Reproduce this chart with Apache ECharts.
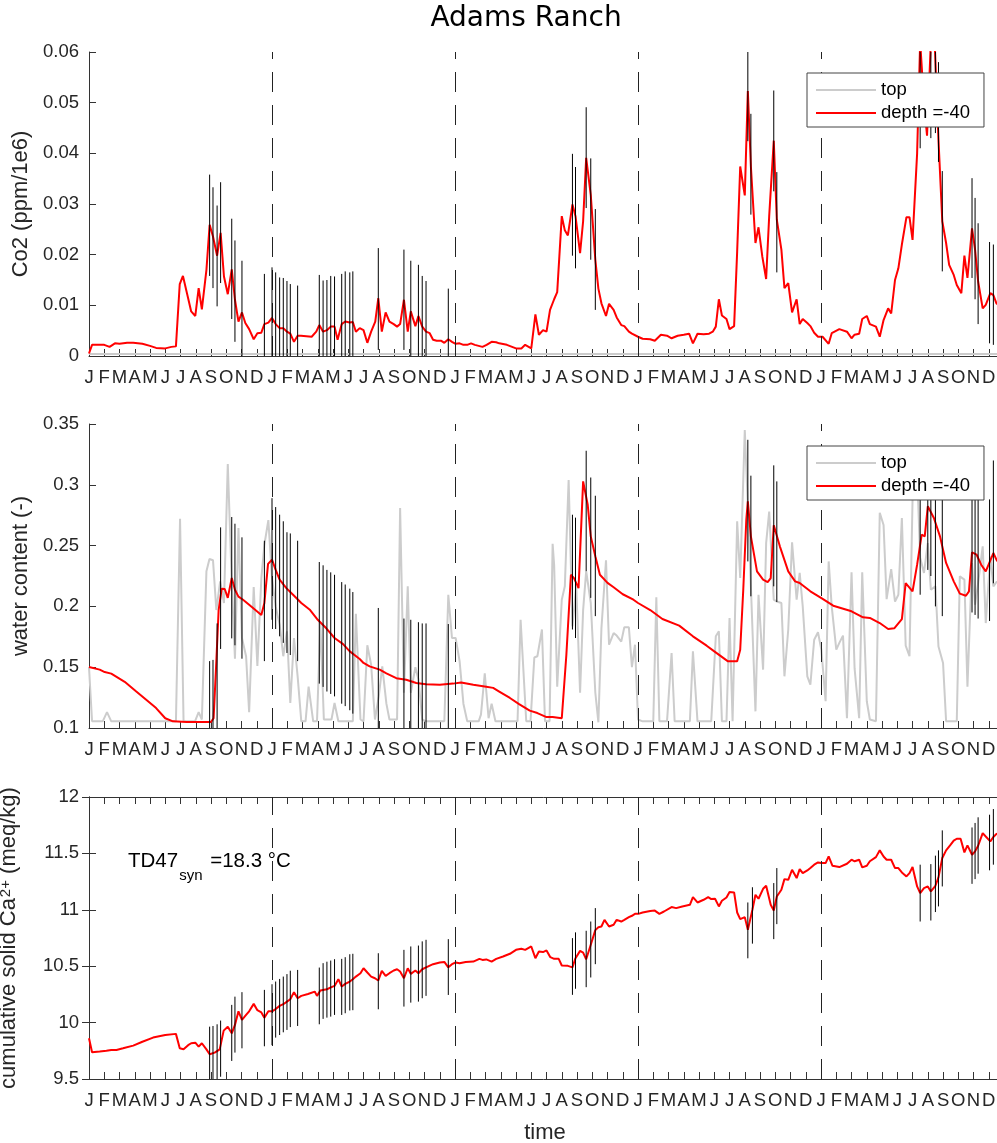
<!DOCTYPE html>
<html>
<head>
<meta charset="utf-8">
<script src="https://cdn.jsdelivr.net/npm/echarts@6/dist/echarts.min.js"></script>
<style>html,body{margin:0;padding:0;background:#fff}#c{width:997px;height:1143px}</style>
</head>
<body>
<div id="c"></div>
<script>
// x values are months since the first January (0 = Jan, year 1)
const monthLetters = ['J','F','M','A','M','J','J','A','S','O','N','D'];
const yearLines = [12, 24, 36, 48];

const co2Top = [[0,0.0004],[12,0.0004],[24,0.0004],[36,0.0004],[48,0.0004],[59.8,0.0004]];
const co2Depth = [[0,0.0005],[0.2,0.0022],[1.0,0.0022],[1.35,0.0018],[1.7,0.0025],[2.0,0.0024],[2.5,0.0026],[2.9,0.0026],[3.5,0.0024],[4.0,0.002],[4.4,0.0016],[5.0,0.0015],[5.4,0.0018],[5.7,0.0019],[5.95,0.0142],[6.16,0.0158],[6.5,0.0114],[6.7,0.0088],[6.97,0.0079],[7.19,0.0134],[7.4,0.0092],[7.7,0.017],[7.91,0.0259],[8.13,0.0236],[8.4,0.0198],[8.63,0.0243],[8.85,0.0157],[9.1,0.0122],[9.36,0.0171],[9.57,0.0111],[9.8,0.0068],[10.03,0.0086],[10.25,0.0065],[10.5,0.0053],[10.8,0.0033],[11.04,0.0045],[11.3,0.0046],[11.5,0.0063],[11.76,0.0066],[12.0,0.0075],[12.24,0.0063],[12.5,0.0055],[12.74,0.0055],[12.98,0.0048],[13.2,0.0044],[13.44,0.0028],[13.68,0.004],[13.9,0.004],[14.6,0.0038],[14.9,0.0048],[15.1,0.0061],[15.35,0.0048],[15.6,0.0051],[15.85,0.0058],[16.1,0.0058],[16.3,0.0032],[16.57,0.0063],[16.8,0.0068],[17.1,0.0066],[17.3,0.0067],[17.5,0.0048],[17.75,0.0055],[18.0,0.0051],[18.25,0.0026],[18.5,0.0048],[18.77,0.0068],[18.97,0.0114],[19.2,0.0048],[19.45,0.0086],[19.7,0.0068],[19.98,0.0063],[20.2,0.0058],[20.4,0.0063],[20.65,0.0111],[20.9,0.0048],[21.1,0.0088],[21.4,0.0059],[21.6,0.0079],[21.85,0.0058],[22.1,0.0048],[22.34,0.0045],[22.56,0.0032],[22.8,0.003],[23.1,0.003],[23.3,0.0026],[23.56,0.0033],[23.8,0.0028],[24.04,0.0024],[24.3,0.0025],[24.55,0.0022],[24.8,0.0022],[25.05,0.0025],[25.3,0.0022],[25.55,0.002],[25.8,0.0018],[26.07,0.0022],[26.4,0.0028],[26.7,0.0027],[26.9,0.0025],[27.4,0.0022],[28.0,0.0015],[28.35,0.0015],[28.6,0.0022],[29.0,0.0015],[29.27,0.0082],[29.5,0.0042],[29.77,0.0051],[30.0,0.0048],[30.23,0.0091],[30.5,0.0112],[30.7,0.0126],[31.0,0.0276],[31.2,0.0248],[31.4,0.0238],[31.7,0.0299],[31.9,0.0276],[32.2,0.0203],[32.4,0.0266],[32.6,0.0391],[32.9,0.0318],[33.2,0.019],[33.4,0.0133],[33.6,0.0104],[33.9,0.0079],[34.1,0.0103],[34.4,0.0091],[34.6,0.0076],[34.9,0.0061],[35.1,0.0059],[35.4,0.0048],[35.6,0.0044],[36.0,0.0038],[36.3,0.0034],[36.8,0.0033],[37.1,0.003],[37.5,0.0042],[37.9,0.004],[38.2,0.0035],[38.6,0.004],[39.0,0.0042],[39.35,0.0044],[39.6,0.0025],[39.9,0.0044],[40.3,0.0043],[40.66,0.0044],[40.9,0.0048],[41.1,0.0058],[41.3,0.0112],[41.5,0.008],[41.8,0.0073],[42.0,0.0053],[42.3,0.0059],[42.5,0.0206],[42.7,0.0374],[43.0,0.0317],[43.2,0.0523],[43.4,0.0374],[43.7,0.0223],[43.9,0.0254],[44.15,0.0196],[44.4,0.0152],[44.6,0.0276],[44.9,0.0425],[45.1,0.0269],[45.4,0.021],[45.6,0.0134],[45.85,0.0144],[46.1,0.0086],[46.4,0.0112],[46.6,0.0063],[46.8,0.0073],[47.1,0.0065],[47.3,0.0059],[47.55,0.0046],[47.8,0.0038],[48.1,0.0038],[48.5,0.0024],[48.7,0.0045],[49.2,0.0053],[49.7,0.0048],[50.0,0.0035],[50.2,0.0042],[50.5,0.0044],[50.7,0.0073],[51.0,0.0079],[51.2,0.0063],[51.6,0.0058],[51.85,0.0038],[52.1,0.0071],[52.4,0.0094],[52.6,0.0084],[52.85,0.015],[53.07,0.0173],[53.3,0.022],[53.6,0.0274],[53.8,0.0274],[54.0,0.0229],[54.3,0.04],[54.5,0.062],[54.75,0.05],[54.95,0.0435],[55.2,0.062],[55.45,0.062],[55.7,0.0427],[55.95,0.0266],[56.2,0.0223],[56.4,0.018],[56.7,0.016],[56.9,0.014],[57.2,0.0124],[57.4,0.0198],[57.6,0.0154],[57.9,0.0252],[58.1,0.021],[58.3,0.0147],[58.6,0.0094],[58.8,0.0101],[59.1,0.0124],[59.3,0.012],[59.5,0.0104],[59.8,0.0098]];
const co2Err = [[7.91,0.0158,0.0358],[8.13,0.0134,0.0333],[8.4,0.0098,0.0297],[8.63,0.0144,0.0343],[9.36,0.0073,0.0271],[9.57,0.0028,0.0228],[10.03,0,0.0188],[11.5,0,0.0162],[12.0,0,0.0175],[12.24,0,0.0165],[12.5,0,0.0155],[12.74,0,0.0154],[12.98,0,0.0148],[13.2,0,0.0142],[13.68,0,0.0139],[15.1,0,0.016],[15.35,0,0.0149],[15.6,0,0.015],[15.85,0,0.0158],[16.1,0,0.0157],[16.57,0,0.0162],[16.8,0,0.0167],[17.1,0,0.0165],[17.3,0,0.0167],[18.97,0.0012,0.0213],[20.65,0.0012,0.021],[21.1,0,0.0188],[21.6,0,0.018],[21.85,0,0.0158],[22.1,0,0.0148],[23.56,0,0.0133],[31.7,0.0198,0.0399],[31.9,0.0173,0.0373],[32.6,0.0292,0.0491],[32.9,0.019,0.039],[33.2,0.0091,0.029],[43.2,0.0424,0.065],[43.4,0.0279,0.0478],[44.9,0.0325,0.0524],[45.1,0.0165,0.0363],[54.5,0.041,0.065],[55.2,0.043,0.065],[55.5,0.044,0.065],[55.7,0.0383,0.058],[55.95,0.0167,0.0365],[57.9,0.0154,0.0351],[58.1,0.0112,0.0312],[58.3,0.0063,0.0262],[59.05,0.0025,0.0225],[59.3,0.0022,0.022]];

const waterTop = [[0,0.15],[0.2,0.1055],[0.9,0.1055],[1.18,0.113],[1.46,0.1055],[5.7,0.1055],[5.97,0.272],[6.2,0.1055],[6.95,0.1055],[7.19,0.113],[7.4,0.107],[7.7,0.229],[7.9,0.239],[8.13,0.238],[8.35,0.197],[8.6,0.2206],[8.85,0.2028],[9.1,0.317],[9.36,0.22],[9.57,0.157],[9.8,0.2645],[10.03,0.174],[10.3,0.159],[10.5,0.113],[10.8,0.216],[11.04,0.151],[11.3,0.223],[11.5,0.2507],[11.76,0.271],[12.0,0.2233],[12.24,0.20],[12.5,0.185],[12.74,0.159],[12.98,0.1795],[13.2,0.1206],[13.44,0.174],[13.68,0.1425],[13.92,0.1055],[14.2,0.1055],[14.4,0.134],[14.7,0.1055],[14.95,0.1055],[15.17,0.1863],[15.4,0.107],[15.9,0.107],[16.1,0.1206],[16.35,0.1055],[17.3,0.1055],[17.5,0.194],[17.8,0.107],[18.0,0.1055],[18.25,0.168],[18.5,0.152],[18.75,0.107],[19.0,0.126],[19.23,0.1507],[19.5,0.12],[19.7,0.107],[20.2,0.107],[20.4,0.281],[20.65,0.129],[20.9,0.2165],[21.1,0.129],[21.4,0.15],[21.6,0.14],[21.85,0.107],[22.1,0.1055],[23.3,0.1055],[23.56,0.2096],[23.8,0.174],[24.04,0.174],[24.3,0.155],[24.55,0.12],[24.8,0.1055],[25.55,0.1055],[25.7,0.111],[25.95,0.145],[26.2,0.108],[26.4,0.12],[26.65,0.1055],[28.1,0.1055],[28.3,0.189],[28.67,0.1055],[28.95,0.1055],[29.2,0.158],[29.4,0.159],[29.7,0.181],[29.9,0.1055],[30.2,0.1055],[30.4,0.2515],[30.5,0.234],[30.7,0.134],[31.0,0.2055],[31.2,0.2165],[31.45,0.304],[31.7,0.1836],[31.95,0.2165],[32.2,0.129],[32.4,0.197],[32.6,0.229],[32.9,0.203],[33.2,0.129],[33.4,0.1047],[33.6,0.182],[33.9,0.238],[34.1,0.1685],[34.4,0.178],[34.6,0.176],[34.9,0.171],[35.1,0.1828],[35.4,0.1828],[35.6,0.15],[35.8,0.1685],[36.0,0.107],[36.3,0.1055],[37.0,0.1055],[37.2,0.2075],[37.4,0.1055],[37.9,0.1055],[38.2,0.1617],[38.4,0.1055],[39.4,0.1055],[39.6,0.163],[39.9,0.1055],[40.8,0.1055],[41.1,0.1754],[41.3,0.1795],[41.5,0.1055],[41.8,0.1055],[42.0,0.1905],[42.2,0.1055],[42.5,0.27],[42.7,0.2233],[43.0,0.345],[43.2,0.2836],[43.4,0.2165],[43.7,0.1137],[43.9,0.2096],[44.2,0.148],[44.4,0.252],[44.6,0.278],[44.9,0.2055],[45.1,0.204],[45.4,0.2028],[45.6,0.1425],[45.85,0.181],[46.1,0.2527],[46.4,0.2055],[46.6,0.2275],[46.8,0.2],[47.1,0.1425],[47.3,0.1356],[47.55,0.1726],[47.8,0.1787],[48.02,0.1644],[48.3,0.122],[48.5,0.237],[48.7,0.2],[49.0,0.1644],[49.2,0.17],[49.44,0.176],[49.7,0.108],[50.0,0.228],[50.2,0.149],[50.5,0.108],[50.7,0.228],[51.0,0.122],[51.2,0.107],[51.6,0.1055],[51.85,0.277],[52.1,0.267],[52.3,0.206],[52.6,0.2307],[52.85,0.204],[53.07,0.2096],[53.3,0.2727],[53.55,0.1677],[53.8,0.159],[54.0,0.2877],[54.3,0.31],[54.5,0.24],[54.75,0.2275],[55.0,0.252],[55.2,0.2137],[55.5,0.2165],[55.7,0.167],[56.0,0.1535],[56.2,0.1055],[56.9,0.1055],[57.1,0.2247],[57.4,0.222],[57.6,0.134],[57.9,0.2357],[58.1,0.2014],[58.3,0.2192],[58.6,0.2494],[58.8,0.1863],[59.1,0.2412],[59.3,0.2165],[59.5,0.22],[59.8,0.22]];
const waterDepth = [[0,0.1502],[0.7,0.148],[1.03,0.146],[1.46,0.1447],[2.34,0.138],[3.1,0.130],[3.87,0.122],[4.4,0.1164],[5.0,0.108],[5.5,0.1055],[6.4,0.105],[7.26,0.105],[8.0,0.105],[8.17,0.108],[8.35,0.155],[8.5,0.197],[8.7,0.2146],[8.9,0.2143],[9.1,0.207],[9.36,0.2233],[9.57,0.2137],[9.8,0.208],[10.1,0.2055],[10.5,0.2014],[10.97,0.1965],[11.3,0.193],[11.5,0.2028],[11.74,0.235],[12.0,0.2384],[12.24,0.23],[12.5,0.222],[12.94,0.215],[13.38,0.2096],[13.92,0.2028],[14.5,0.197],[15.0,0.189],[15.56,0.182],[16.1,0.174],[16.66,0.169],[17.1,0.163],[17.75,0.1567],[18.0,0.1535],[18.4,0.1507],[19.06,0.148],[19.5,0.145],[20.15,0.141],[20.8,0.1397],[21.46,0.137],[22.1,0.1359],[23.0,0.1356],[23.87,0.1365],[24.4,0.1375],[25.2,0.1356],[26.05,0.134],[26.5,0.133],[26.9,0.130],[27.6,0.1247],[28.2,0.1197],[28.9,0.1143],[29.4,0.1123],[30.0,0.109],[30.4,0.109],[31.0,0.108],[31.3,0.16],[31.6,0.226],[31.8,0.2233],[32.1,0.215],[32.4,0.3028],[32.7,0.2836],[32.9,0.2576],[33.2,0.2412],[33.5,0.226],[34.0,0.2193],[34.4,0.2157],[35.0,0.21],[35.7,0.2055],[36.0,0.2028],[36.8,0.197],[37.6,0.1896],[38.7,0.1842],[39.6,0.1754],[40.5,0.1677],[41.0,0.163],[41.9,0.1548],[42.5,0.1548],[42.7,0.1644],[42.9,0.2137],[43.1,0.2713],[43.2,0.2864],[43.4,0.2576],[43.8,0.2288],[44.2,0.222],[44.5,0.22],[44.7,0.2233],[44.9,0.2667],[45.3,0.2494],[45.85,0.2288],[46.3,0.2206],[46.6,0.2192],[47.3,0.2124],[48.0,0.207],[48.8,0.2006],[50.0,0.196],[50.75,0.191],[51.2,0.1905],[51.85,0.1863],[52.4,0.1814],[52.8,0.182],[53.3,0.1896],[53.55,0.2192],[54.0,0.2124],[54.3,0.2343],[54.6,0.259],[54.8,0.2576],[55.0,0.2823],[55.4,0.2727],[55.8,0.2576],[56.2,0.2357],[56.7,0.2206],[57.1,0.2105],[57.5,0.2088],[57.7,0.2124],[57.9,0.2445],[58.2,0.2425],[58.5,0.2343],[58.8,0.2288],[59.3,0.2439],[59.5,0.2384],[59.8,0.233]];
const waterErr = [[7.91,0.1,0.155],[8.13,0.1,0.156],[8.4,0.1,0.186],[8.63,0.165,0.265],[9.36,0.1737,0.2735],[9.57,0.168,0.268],[10.03,0.157,0.2568],[11.5,0.155,0.254],[12.0,0.189,0.289],[12.24,0.1814,0.2817],[12.5,0.1754,0.2754],[12.74,0.17,0.27],[12.98,0.1617,0.261],[13.2,0.16,0.26],[13.68,0.155,0.254],[15.1,0.1365,0.2365],[15.35,0.1338,0.2338],[15.6,0.13,0.23],[15.85,0.128,0.228],[16.1,0.126,0.226],[16.57,0.12,0.22],[16.8,0.118,0.218],[17.1,0.1146,0.2146],[17.3,0.1118,0.2118],[18.97,0.1,0.1987],[20.65,0.1,0.19],[21.1,0.1,0.189],[21.6,0.1,0.187],[21.85,0.1,0.186],[22.1,0.1,0.186],[23.56,0.1,0.1855],[31.7,0.181,0.2754],[31.9,0.174,0.273],[32.6,0.229,0.328],[32.9,0.207,0.306],[33.2,0.192,0.291],[43.2,0.237,0.337],[43.4,0.2083,0.3075],[44.9,0.2165,0.316],[45.1,0.2036,0.3028],[54.5,0.2096,0.31],[55.0,0.23,0.33],[55.2,0.225,0.32],[55.5,0.20,0.30],[55.95,0.192,0.29],[57.9,0.195,0.295],[58.1,0.193,0.293],[58.3,0.19,0.29],[59.05,0.188,0.288],[59.3,0.219,0.32]];

const caDepth = [[0,9.861],[0.2,9.737],[0.7,9.743],[1.14,9.75],[1.46,9.757],[1.8,9.757],[2.23,9.772],[2.9,9.796],[3.5,9.83],[4.2,9.867],[5.0,9.89],[5.7,9.9],[5.95,9.772],[6.2,9.763],[6.5,9.8],[6.7,9.817],[6.97,9.822],[7.19,9.787],[7.4,9.817],[7.7,9.763],[7.91,9.719],[8.24,9.734],[8.57,9.763],[8.83,9.929],[9.1,9.964],[9.36,9.905],[9.57,9.979],[9.8,10.1],[10.03,10.024],[10.3,10.068],[10.5,10.1],[10.8,10.166],[11.04,10.11],[11.3,10.09],[11.5,10.044],[11.76,10.1],[12.0,10.1],[12.24,10.12],[12.5,10.148],[12.74,10.163],[12.98,10.186],[13.2,10.207],[13.44,10.27],[13.68,10.216],[13.92,10.237],[14.36,10.254],[14.8,10.275],[14.95,10.237],[15.17,10.284],[15.6,10.296],[15.9,10.314],[16.1,10.325],[16.35,10.385],[16.57,10.32],[16.8,10.343],[17.1,10.364],[17.3,10.385],[17.5,10.408],[17.8,10.438],[18.0,10.482],[18.25,10.444],[18.5,10.408],[18.75,10.393],[18.97,10.373],[19.2,10.459],[19.45,10.414],[19.7,10.438],[19.98,10.462],[20.2,10.473],[20.4,10.453],[20.65,10.393],[20.9,10.482],[21.1,10.432],[21.4,10.462],[21.6,10.438],[21.85,10.473],[22.1,10.49],[22.56,10.518],[23.0,10.533],[23.3,10.538],[23.56,10.49],[23.8,10.518],[24.04,10.533],[24.3,10.527],[24.7,10.538],[25.2,10.541],[25.6,10.565],[25.8,10.556],[26.05,10.56],[26.4,10.541],[26.7,10.565],[27.15,10.586],[27.6,10.61],[28.0,10.645],[28.35,10.654],[28.6,10.645],[29.0,10.675],[29.27,10.571],[29.5,10.63],[29.77,10.625],[30.0,10.64],[30.25,10.58],[30.5,10.565],[30.8,10.565],[31.0,10.506],[31.4,10.503],[31.7,10.49],[31.9,10.571],[32.2,10.636],[32.4,10.62],[32.6,10.562],[32.9,10.69],[33.2,10.82],[33.4,10.846],[33.6,10.852],[33.8,10.911],[34.1,10.852],[34.4,10.867],[34.6,10.911],[34.9,10.896],[35.1,10.911],[35.4,10.935],[35.6,10.947],[35.8,10.964],[36.02,10.964],[36.3,10.976],[36.8,10.99],[37.1,10.993],[37.4,10.964],[37.7,10.985],[38.2,11.024],[38.5,11.015],[38.9,11.03],[39.4,11.044],[39.6,11.112],[39.9,11.065],[40.3,11.089],[40.6,11.112],[40.8,11.095],[41.05,11.098],[41.3,11.03],[41.5,11.08],[41.8,11.109],[42.0,11.157],[42.3,11.154],[42.5,10.976],[42.7,10.917],[43.0,10.935],[43.2,10.822],[43.5,11.0],[43.7,11.133],[43.9,11.098],[44.2,11.186],[44.4,11.213],[44.7,11.044],[44.9,10.994],[45.1,11.118],[45.4,11.178],[45.6,11.272],[45.85,11.266],[46.1,11.355],[46.4,11.281],[46.6,11.361],[46.8,11.325],[47.1,11.349],[47.3,11.37],[47.55,11.4],[47.8,11.42],[48.02,11.414],[48.3,11.414],[48.5,11.473],[48.75,11.39],[49.2,11.379],[49.7,11.408],[50.0,11.444],[50.2,11.43],[50.5,11.444],[50.7,11.376],[51.0,11.39],[51.2,11.43],[51.6,11.467],[51.85,11.527],[52.1,11.473],[52.3,11.444],[52.6,11.444],[52.85,11.37],[53.07,11.37],[53.3,11.331],[53.6,11.296],[53.8,11.325],[54.0,11.379],[54.3,11.207],[54.5,11.148],[54.75,11.192],[55.0,11.207],[55.2,11.163],[55.5,11.213],[55.7,11.287],[55.95,11.459],[56.2,11.527],[56.5,11.577],[56.7,11.613],[56.9,11.63],[57.15,11.63],[57.4,11.509],[57.6,11.571],[57.9,11.488],[58.1,11.518],[58.3,11.568],[58.6,11.68],[58.8,11.65],[59.1,11.607],[59.3,11.645],[59.5,11.672],[59.8,11.68]];
const caErr = [[7.91,9.4,9.964],[8.13,9.4,9.97],[8.4,9.45,9.985],[8.63,9.52,10.018],[9.36,9.66,10.157],[9.57,9.734,10.23],[10.03,9.772,10.27],[11.5,9.79,10.29],[12.0,9.8,10.34],[12.24,9.867,10.364],[12.5,9.89,10.387],[12.74,9.914,10.408],[12.98,9.935,10.43],[13.2,9.96,10.46],[13.68,9.97,10.467],[15.1,9.985,10.488],[15.35,10.033,10.527],[15.6,10.044,10.54],[15.85,10.053,10.55],[16.1,10.068,10.562],[16.57,10.068,10.565],[16.8,10.083,10.58],[17.1,10.107,10.606],[17.3,10.11,10.61],[18.97,10.118,10.615],[20.65,10.142,10.645],[21.1,10.177,10.675],[21.6,10.186,10.683],[21.85,10.216,10.72],[22.1,10.237,10.734],[23.56,10.245,10.74],[31.7,10.246,10.749],[31.9,10.3,10.8],[32.6,10.314,10.814],[32.9,10.4,10.896],[33.2,10.518,11.015],[43.2,10.57,11.065],[43.5,10.7,11.2],[44.9,10.74,11.237],[45.1,10.873,11.37],[54.5,10.896,11.4],[55.2,10.905,11.405],[55.5,10.98,11.48],[55.7,11.03,11.527],[55.95,11.207,11.704],[57.9,11.23,11.73],[58.1,11.272,11.77],[58.3,11.32,11.82],[59.05,11.35,11.843],[59.3,11.4,11.893]];

const FONT = '"Liberation Sans", Arial, Helvetica, sans-serif';
const AX = '#333333';
const TXT = '#262626';

function xAxisFor(grid, showLabel, position, name) {
  return {
    type: 'value', gridIndex: grid, min: 0, max: 59.8, interval: 1,
    position: position || 'bottom',
    name: name || '', nameLocation: 'middle', nameGap: 43,
    nameTextStyle: {fontFamily: FONT, fontSize: 22, color: TXT},
    axisLine: {show: true, lineStyle: {color: AX, width: 1}},
    axisTick: {show: true, inside: true, length: 7, lineStyle: {color: AX}},
    splitLine: {show: false},
    axisLabel: {
      show: showLabel, margin: 12, fontFamily: FONT, fontSize: 18.5, color: TXT,
      showMaxLabel: false,
      formatter: v => (Math.abs(v - Math.round(v)) < 1e-6 && Math.round(v) < 60) ? monthLetters[Math.round(v) % 12] : ''
    }
  };
}
function yAxisFor(grid, min, max, interval, name, extra) {
  return Object.assign({
    type: 'value', gridIndex: grid, min: min, max: max, interval: interval,
    name: name, nameLocation: 'middle', nameGap: 55,
    nameTextStyle: {fontFamily: FONT, fontSize: 22, color: TXT},
    axisLine: {show: true, lineStyle: {color: AX, width: 1}},
    axisTick: {show: true, inside: true, length: 7, lineStyle: {color: AX}},
    splitLine: {show: false},
    axisLabel: {margin: 10, fontFamily: FONT, fontSize: 18.5, color: TXT}
  }, extra || {});
}
function errSeries(data, xi, yi) {
  return {
    type: 'custom', xAxisIndex: xi, yAxisIndex: yi, data: data, clip: true, silent: true, z: 5,
    encode: {x: 0, y: [1, 2]},
    renderItem: (params, api) => {
      const x = api.value(0);
      const a = api.coord([x, api.value(1)]);
      const b = api.coord([x, api.value(2)]);
      return {type: 'line', shape: {x1: a[0], y1: a[1], x2: b[0], y2: b[1]},
              style: {stroke: '#000', lineWidth: 1}};
    }
  };
}
const yearMark = {
  silent: true, symbol: ['none', 'none'], animation: false,
  label: {show: false},
  lineStyle: {color: '#222', width: 1, type: [20, 13]},
  data: yearLines.map(v => ({xAxis: v}))
};
function lineSeries(name, data, xi, yi, color, withMark) {
  const s = {
    type: 'line', name: name, data: data, xAxisIndex: xi, yAxisIndex: yi,
    symbol: 'none', showSymbol: false, clip: true, silent: true,
    lineStyle: {color: color, width: 2}, itemStyle: {color: color}, z: 3
  };
  if (withMark) s.markLine = yearMark;
  return s;
}
function legendAt(top) {
  return {
    data: ['top', 'depth =-40'], left: 807, top: top, orient: 'vertical', z: 20,
    icon: 'rect', itemWidth: 60, itemHeight: 2, itemGap: 3, padding: [7, 14, 4, 9],
    borderColor: '#444', borderWidth: 1, backgroundColor: '#fff', borderRadius: 0,
    selectedMode: false,
    textStyle: {fontFamily: FONT, fontSize: 18.5, color: '#000', lineHeight: 20}
  };
}

const chart = echarts.init(document.getElementById('c'), null, {renderer: 'canvas'});
chart.setOption({
  animation: false,
  backgroundColor: '#fff',
  grid: [
    {left: 89, top: 52, width: 912, height: 304, outerBoundsMode: 'none', containLabel: false},
    {left: 89, top: 424, width: 912, height: 304, outerBoundsMode: 'none', containLabel: false},
    {left: 89, top: 797, width: 912, height: 282, outerBoundsMode: 'none', containLabel: false}
  ],
  xAxis: [
    xAxisFor(0, true),
    xAxisFor(1, true),
    xAxisFor(2, true, 'bottom', 'time'),
    xAxisFor(2, false, 'top')
  ],
  yAxis: [
    yAxisFor(0, 0, 0.06, 0.01, 'Co2 (ppm/1e6)'),
    yAxisFor(1, 0.1, 0.35, 0.05, 'water content (-)'),
    yAxisFor(2, 9.5, 12, 0.5, '{a|cumulative solid Ca}{sup|2+}{a| (meq/kg)}', {
      nameTextStyle: {fontFamily: FONT, fontSize: 22, color: TXT,
        rich: {
          a: {fontFamily: FONT, fontSize: 22, color: TXT, lineHeight: 22, verticalAlign: 'bottom'},
          sup: {fontFamily: FONT, fontSize: 15, color: TXT, lineHeight: 15, verticalAlign: 'top', padding: [0, 0, 19, 1]}
        }}
    }),
    yAxisFor(2, 9.5, 12, 0.5, '', {position: 'right', axisLabel: {show: false}})
  ],
  legend: [legendAt(73), legendAt(446)],
  graphic: [
    {type: 'text', x: 526, y: 19, silent: true,
     style: {text: 'Adams Ranch', align: 'center', verticalAlign: 'middle',
             font: '28px "DejaVu Sans", sans-serif', fill: '#000'}},
    {type: 'text', x: 128, y: 851, silent: true,
     style: {text: '{a|TD47}{sub|syn}{a| =18.3 °C}',
             rich: {
               a: {fontFamily: FONT, fontSize: 20.5, fill: '#000', lineHeight: 26, verticalAlign: 'top'},
               sub: {fontFamily: FONT, fontSize: 15, fill: '#000', lineHeight: 15, verticalAlign: 'top', padding: [17, 2, 0, 1]}
             }}}
  ],
  series: [
    lineSeries('top', co2Top, 0, 0, '#cccccc', false),
    lineSeries('depth =-40', co2Depth, 0, 0, '#ff0000', true),
    errSeries(co2Err, 0, 0),
    lineSeries('top', waterTop, 1, 1, '#cccccc', false),
    lineSeries('depth =-40', waterDepth, 1, 1, '#ff0000', true),
    errSeries(waterErr, 1, 1),
    lineSeries('Ca', caDepth, 2, 2, '#ff0000', true),
    errSeries(caErr, 2, 2)
  ]
});
</script>
</body>
</html>
